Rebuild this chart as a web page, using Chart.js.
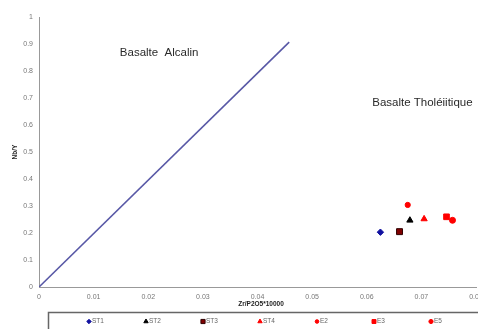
<!DOCTYPE html>
<html><head><meta charset="utf-8">
<script src="https://cdn.jsdelivr.net/npm/chart.js@4.4.1/dist/chart.umd.min.js"></script>
<style>html,body{margin:0;padding:0;background:#fff}#wrap{width:478px;height:329px}</style>
</head><body><div id="wrap"><canvas id="c" width="478" height="329"></canvas></div>
<script>
const xTicks = [0, 0.01, 0.02, 0.03, 0.04, 0.05, 0.06, 0.07, 0.08];
const yTicks = [0, 0.1, 0.2, 0.3, 0.4, 0.5, 0.6, 0.7, 0.8, 0.9, 1];
const seriesNames = ['ST1', 'ST2', 'ST3', 'ST4', 'E2', 'E3', 'E5'];
const seriesX = [0.0625, 0.0679, 0.0660, 0.0705, 0.0675, 0.0746, 0.0757];
const seriesY = [0.203, 0.247, 0.205, 0.252, 0.304, 0.260, 0.247];
const boundaryX = [0, 0.0458];
const boundaryY = [0, 0.907];
const labelTexts = ['Basalte  Alcalin', 'Basalte Tholéiitique'];
const labelX = [0.0148, 0.0610];
const labelY = [0.867, 0.681];
const xTitle = 'Zr/P2O5*10000';
const yTitle = 'Nb/Y';

const styles = [
  {pointStyle: 'rectRot', radius: 3.2, bg: '#1010a0', border: '#1010a0'},
  {pointStyle: 'triangle', radius: 3.6, bg: '#000000', border: '#000000'},
  {pointStyle: 'rect', radius: 4.2, bg: '#800000', border: '#300000'},
  {pointStyle: 'triangle', radius: 3.6, bg: '#ff0000', border: '#ff0000'},
  {pointStyle: 'circle', radius: 2.6, bg: '#ff0000', border: '#ff0000'},
  {pointStyle: 'rect', radius: 4.0, bg: '#ff0000', border: '#ff0000'},
  {pointStyle: 'circle', radius: 3.0, bg: '#ff0000', border: '#ff0000'}
];

const datasets = seriesNames.map((n, i) => ({
  label: n,
  data: [{x: seriesX[i], y: seriesY[i]}],
  pointStyle: styles[i].pointStyle,
  pointRadius: styles[i].radius,
  pointBackgroundColor: styles[i].bg,
  pointBorderColor: styles[i].border,
  pointBorderWidth: 1,
  showLine: false
}));
datasets.push({
  label: 'boundary',
  data: boundaryX.map((x, i) => ({x, y: boundaryY[i]})),
  showLine: true,
  borderColor: '#5858a6',
  borderWidth: 1.6,
  pointRadius: 0,
  fill: false
});

const FONT = '"Liberation Sans", Arial, sans-serif';

const overlay = {
  id: 'overlay',
  afterDatasetsDraw(chart) {
    const ctx = chart.ctx, xs = chart.scales.x, ys = chart.scales.y;
    ctx.save();
    ctx.fillStyle = '#2a2a2a';
    ctx.font = '11.5px ' + FONT;
    ctx.textBaseline = 'middle';
    ctx.textAlign = 'left';
    labelTexts.forEach((t, i) => ctx.fillText(t, xs.getPixelForValue(labelX[i]), ys.getPixelForValue(labelY[i])));
    ctx.fillStyle = '#222';
    ctx.font = 'bold 6.5px ' + FONT;
    ctx.textAlign = 'center';
    ctx.fillText(xTitle, 261, 304);
    ctx.save();
    ctx.translate(15, 152);
    ctx.rotate(-Math.PI / 2);
    ctx.fillText(yTitle, 0, 0);
    ctx.restore();
    ctx.strokeStyle = '#666';
    ctx.lineWidth = 1.5;
    ctx.strokeRect(48.5, 312.5, 440, 30);
    ctx.font = '6.5px ' + FONT;
    ctx.textAlign = 'left';
    seriesNames.forEach((n, i) => {
      const px = 89 + i * 57;
      const py = 321.5;
      const st = styles[i];
      ctx.fillStyle = st.bg;
      ctx.strokeStyle = st.border;
      ctx.lineWidth = 1;
      Chart.helpers.drawPoint(ctx, {pointStyle: st.pointStyle, radius: st.radius * 0.7, rotation: 0, borderWidth: 1}, px, py);
      ctx.fillStyle = '#666';
      ctx.fillText(n, px + 3, py);
    });
    ctx.restore();
  }
};

new Chart(document.getElementById('c'), {
  type: 'scatter',
  data: {datasets},
  options: {
    responsive: false,
    animation: false,
    devicePixelRatio: 1,
    layout: {autoPadding: false, padding: {top: 17, right: 2, left: 0, bottom: 0}},
    plugins: {legend: {display: false}, tooltip: {enabled: false}},
    scales: {
      x: {
        type: 'linear', min: 0, max: 0.08,
        afterBuildTicks: s => { s.ticks = xTicks.map(v => ({value: v})); },
        afterFit: s => { s.height = 42; s.paddingRight = 0; s.paddingLeft = 0; },
        grid: {display: false, drawTicks: true, tickLength: 3, tickColor: '#999'},
        border: {display: true, color: '#999', width: 1},
        ticks: {color: '#777', font: {size: 7, family: FONT}, padding: 3, maxRotation: 0, autoSkip: false,
          callback: v => String(+v.toFixed(2))}
      },
      y: {
        type: 'linear', min: 0, max: 1,
        afterBuildTicks: s => { s.ticks = yTicks.map(v => ({value: v})); },
        afterFit: s => { s.width = 39; s.paddingTop = 0; s.paddingBottom = 0; },
        grid: {display: false, drawTicks: true, tickLength: 3, tickColor: '#999'},
        border: {display: true, color: '#999', width: 1},
        ticks: {color: '#777', font: {size: 7, family: FONT}, padding: 3, autoSkip: false,
          callback: v => String(+v.toFixed(1))}
      }
    }
  },
  plugins: [overlay]
});
</script>
</body></html>
